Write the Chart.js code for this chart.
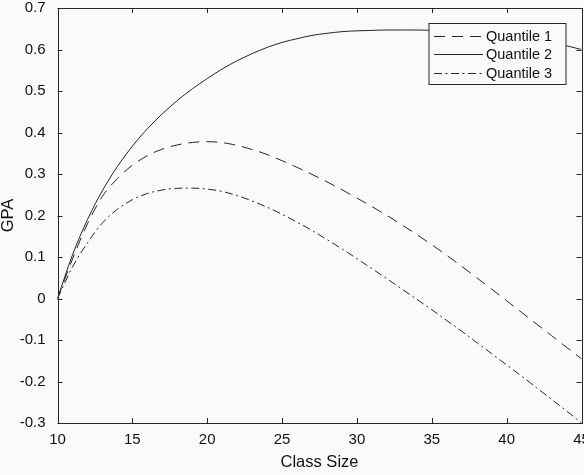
<!DOCTYPE html>
<html>
<head>
<meta charset="utf-8">
<script src="https://cdn.jsdelivr.net/npm/chart.js@4.4.1/dist/chart.umd.min.js"></script>
<style>
  html, body { margin: 0; padding: 0; background: #fafafa; }
  #wrap { width: 584px; height: 475px; }
</style>
</head>
<body>
<div id="wrap"><canvas id="gpaChart" width="584" height="475"></canvas></div>
<script>
// Class size values on the x axis
const classSize = [10, 11, 12, 13, 14, 15, 16, 17, 18, 19, 20, 21, 22, 23, 24, 25, 26, 27,
    28, 29, 30, 31, 32, 33, 34, 35, 36, 37, 38, 39, 40, 41, 42, 43, 44, 45];

// GPA effect per quantile
const quantile1 = [0, 0.095, 0.18, 0.246, 0.289, 0.321, 0.344, 0.36, 0.37, 0.376, 0.378, 0.3755,
    0.369, 0.359, 0.347, 0.332, 0.316, 0.299, 0.281, 0.262, 0.242, 0.2215, 0.2, 0.1775,
    0.154, 0.1295, 0.104, 0.0775, 0.05, 0.0225, -0.0055, -0.0335, -0.0615, -0.0895, -0.1175, -0.1455];
const quantile2 = [0, 0.105, 0.19, 0.26, 0.318, 0.367, 0.409, 0.445, 0.477, 0.505, 0.53, 0.553,
    0.573, 0.59, 0.605, 0.617, 0.626, 0.634, 0.639, 0.643, 0.645, 0.646, 0.647, 0.647,
    0.647, 0.646, 0.645, 0.644, 0.642, 0.639, 0.635, 0.63, 0.624, 0.617, 0.609, 0.6];
const quantile3 = [0, 0.076, 0.134, 0.182, 0.215, 0.238, 0.253, 0.2615, 0.2655, 0.266, 0.2635, 0.258,
    0.248, 0.235, 0.22, 0.203, 0.184, 0.164, 0.142, 0.1195, 0.096, 0.072, 0.0475, 0.023,
    -0.002, -0.027, -0.053, -0.079, -0.106, -0.133, -0.16, -0.187, -0.215, -0.243, -0.271, -0.3];

const seriesNames = ['Quantile 1', 'Quantile 2', 'Quantile 3'];

// Tick values and labels
const xTickValues = [10, 15, 20, 25, 30, 35, 40, 45];
const xTickLabels = ['10', '15', '20', '25', '30', '35', '40', '45'];
const yTickValues = [-0.3, -0.2, -0.1, 0, 0.1, 0.2, 0.3, 0.4, 0.5, 0.6, 0.7];
const yTickLabels = ['-0.3', '-0.2', '-0.1', '0', '0.1', '0.2', '0.3', '0.4', '0.5', '0.6', '0.7'];

const ink = '#262626';
const bg = '#fafafa';
const fontFamily = '"Liberation Sans", Arial, sans-serif';

function toPoints(values) {
    return classSize.map((x, i) => ({ x: x, y: values[i] }));
}

// Box around the plot with inward ticks, MATLAB style
const boxPlugin = {
    id: 'boxPlugin',
    beforeDraw(chart) {
        const ctx = chart.ctx;
        ctx.save();
        ctx.fillStyle = bg;
        ctx.fillRect(0, 0, chart.width, chart.height);
        ctx.restore();
    },
    afterDatasetsDraw(chart) {
        const { ctx, chartArea: a, scales } = chart;
        const len = 5;
        ctx.save();
        ctx.strokeStyle = ink;
        ctx.lineWidth = 1;
        ctx.beginPath();
        scales.x.ticks.forEach(t => {
            const px = Math.round(scales.x.getPixelForValue(t.value)) + 0.5;
            ctx.moveTo(px, a.bottom); ctx.lineTo(px, a.bottom - len);
            ctx.moveTo(px, a.top); ctx.lineTo(px, a.top + len);
        });
        scales.y.ticks.forEach(t => {
            const py = Math.round(scales.y.getPixelForValue(t.value)) + 0.5;
            ctx.moveTo(a.left, py); ctx.lineTo(a.left + len, py);
            ctx.moveTo(a.right, py); ctx.lineTo(a.right - len, py);
        });
        ctx.stroke();
        ctx.strokeRect(Math.round(a.left) + 0.5, Math.round(a.top) + 0.5,
            Math.round(a.right - a.left), Math.round(a.bottom - a.top));
        ctx.restore();
    }
};

// Legend box drawn inside the plot, top right
const insideLegend = {
    id: 'insideLegend',
    afterDraw(chart) {
        const ctx = chart.ctx;
        const a = chart.chartArea;
        const boxW = 137, boxH = 61;
        const bx = a.right - 15.5 - boxW;
        const by = a.top + 15.5;
        ctx.save();
        ctx.fillStyle = bg;
        ctx.fillRect(bx, by, boxW, boxH);
        ctx.strokeStyle = ink;
        ctx.lineWidth = 1;
        ctx.strokeRect(bx, by, boxW, boxH);
        ctx.font = '14.5px ' + fontFamily;
        ctx.textBaseline = 'middle';
        ctx.fillStyle = '#111';
        chart.data.datasets.forEach((ds, i) => {
            const y = Math.round(by + 12 + i * 18.7) + 0.5;
            ctx.beginPath();
            ctx.setLineDash(ds.borderDash || []);
            ctx.strokeStyle = ds.borderColor;
            ctx.moveTo(bx + 5, y);
            ctx.lineTo(bx + 54, y);
            ctx.stroke();
            ctx.setLineDash([]);
            ctx.fillText(ds.label, bx + 57, y);
        });
        ctx.restore();
    }
};

new Chart(document.getElementById('gpaChart'), {
    type: 'line',
    data: {
        datasets: [
            { label: seriesNames[0], data: toPoints(quantile1), borderDash: [11, 7] },
            { label: seriesNames[1], data: toPoints(quantile2), borderDash: [] },
            { label: seriesNames[2], data: toPoints(quantile3), borderDash: [8, 3.5, 2, 3.5] }
        ].map(ds => Object.assign(ds, {
            borderColor: ink,
            borderWidth: 1,
            pointRadius: 0,
            cubicInterpolationMode: 'monotone',
            fill: false
        }))
    },
    options: {
        responsive: false,
        animation: false,
        devicePixelRatio: 1,
        layout: { padding: { left: 0, top: 8, right: 2.5, bottom: 0 } },
        plugins: {
            legend: { display: false },
            tooltip: { enabled: false }
        },
        scales: {
            x: {
                type: 'linear',
                min: 10,
                max: 45,
                afterBuildTicks: (scale) => { scale.ticks = xTickValues.map(v => ({ value: v })); },
                afterFit: (scale) => { scale.height = 52; scale.paddingLeft = 0; scale.paddingRight = 0; },
                grid: { display: false, drawTicks: false },
                border: { display: false },
                ticks: {
                    padding: 8,
                    color: '#111',
                    maxRotation: 0,
                    font: { family: fontFamily, size: 15 },
                    callback: (v, i) => xTickLabels[i]
                },
                title: {
                    display: true,
                    text: 'Class Size',
                    color: '#111',
                    font: { family: fontFamily, size: 16.5 },
                    padding: { top: 0, bottom: 3 }
                }
            },
            y: {
                type: 'linear',
                min: -0.3,
                max: 0.7,
                afterBuildTicks: (scale) => { scale.ticks = yTickValues.map(v => ({ value: v })); },
                afterFit: (scale) => { scale.width = 57.5; scale.paddingTop = 0; scale.paddingBottom = 0; },
                grid: { display: false, drawTicks: false },
                border: { display: false },
                ticks: {
                    padding: 12,
                    color: '#111',
                    font: { family: fontFamily, size: 15 },
                    callback: (v, i) => yTickLabels[i]
                },
                title: {
                    display: true,
                    text: 'GPA',
                    color: '#111',
                    font: { family: fontFamily, size: 16.5 },
                    padding: { top: -1, bottom: 0 }
                }
            }
        }
    },
    plugins: [boxPlugin, insideLegend]
});
</script>
</body>
</html>
